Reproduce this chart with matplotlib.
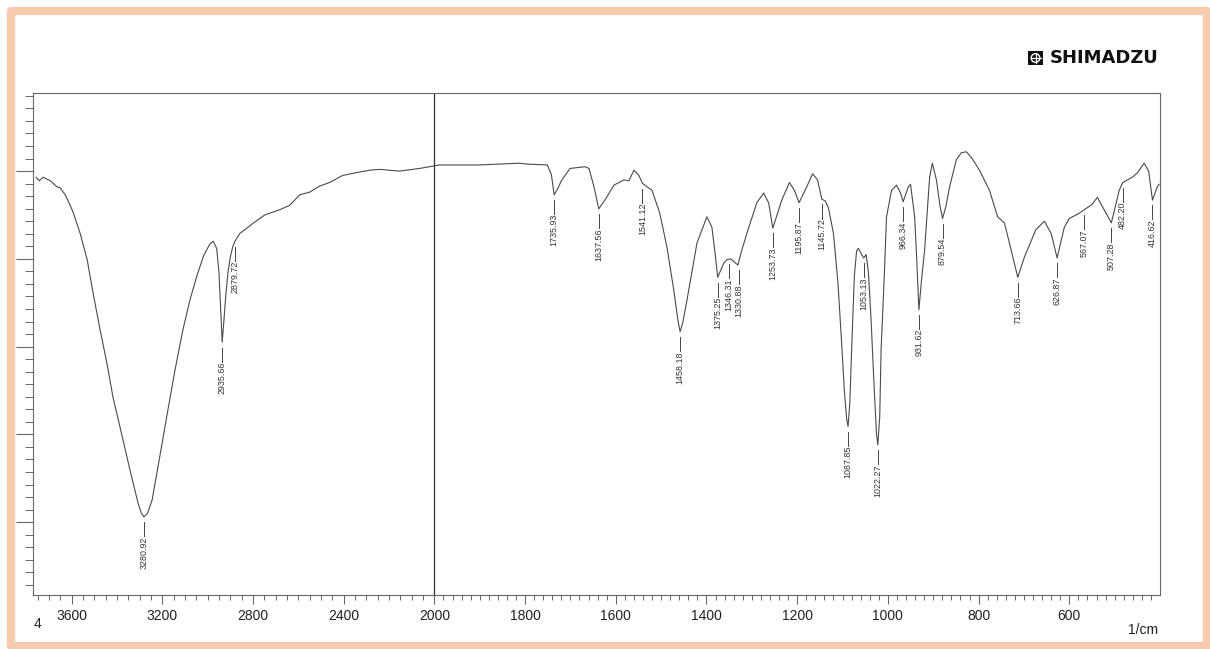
import numpy as np
import matplotlib
matplotlib.use("Agg")
import matplotlib.pyplot as plt
from matplotlib.patches import Rectangle, Circle
from matplotlib.ticker import FixedLocator, MultipleLocator, NullFormatter

# FTIR spectrum (wavenumber in 1/cm, transmittance in arbitrary %T units)
wavenumber = [
    3756, 3743, 3725, 3694, 3664, 3650, 3642, 3628, 3606, 3593, 3562, 3531, 3505, 3474,
    3444, 3417, 3386, 3342, 3307, 3292, 3280.92, 3265, 3245, 3210, 3175, 3144, 3109,
    3078, 3047, 3017, 2990, 2975, 2960, 2950, 2943, 2935.66, 2928, 2920, 2910, 2900,
    2890, 2879.72, 2858, 2827, 2792, 2748, 2682, 2638, 2594, 2550, 2506, 2462, 2405,
    2330, 2286, 2242, 2154, 2066, 1989, 1901, 1813, 1795, 1751, 1742, 1735.93, 1728,
    1720, 1701, 1668, 1659, 1648, 1637.56, 1624, 1604, 1582, 1571, 1560, 1549, 1541.12,
    1520, 1503, 1487, 1472, 1463, 1458.18, 1452, 1443, 1421, 1399, 1388, 1381, 1375.25,
    1362, 1355, 1346.31, 1338, 1330.88, 1322, 1311, 1289, 1274, 1263, 1253.73, 1234,
    1217, 1206, 1195.87, 1179, 1166, 1155, 1145.72, 1138, 1131, 1120, 1110, 1102, 1096,
    1091, 1087.85, 1084, 1079, 1074, 1069, 1065, 1058, 1053.13, 1048, 1043, 1037, 1030,
    1025, 1022.27, 1018, 1015, 1008, 1003, 992, 981, 972, 966.34, 955, 950, 941, 936,
    931.62, 926, 919, 908, 902, 893, 885, 879.54, 872, 864, 849, 838, 827, 815, 798,
    776, 758, 743, 732, 713.66, 699, 674, 655, 640, 626.87, 611, 600, 578, 567.07, 550,
    538, 519, 507.28, 490, 482.20, 461, 450, 435, 425, 416.62, 406, 402,
]
transmittance = [
    49.3, 48.9, 49.3, 48.9, 48.2, 48.1, 47.8, 47.3, 46.1, 45.3, 42.9, 39.9, 36.1, 31.9,
    28.1, 24.2, 20.8, 15.9, 12.2, 11.0, 10.6, 11.0, 12.5, 17.6, 22.8, 27.3, 31.9,
    35.3, 38.1, 40.4, 41.7, 42.0, 41.2, 38.5, 34.5, 30.5, 33.0, 35.8, 38.5, 40.2,
    41.3, 42.0, 42.9, 43.5, 44.2, 45.0, 45.6, 46.1, 47.3, 47.6, 48.3, 48.7, 49.5,
    49.9, 50.1, 50.2, 50.0, 50.3, 50.7, 50.7, 50.9, 50.8, 50.7, 49.6, 47.3, 48.0,
    48.9, 50.3, 50.5, 50.3, 48.2, 45.7, 46.7, 48.4, 49.0, 48.9, 50.1, 49.5, 48.6,
    47.8, 45.2, 41.3, 36.4, 33.0, 31.7, 32.8, 35.3, 41.8, 44.8, 43.6, 40.6, 37.9,
    39.5, 39.9, 40.0, 39.6, 39.3, 41.0, 42.9, 46.4, 47.5, 46.4, 43.5, 46.7,
    48.7, 47.8, 46.4, 48.2, 49.7, 49.0, 46.8, 46.6, 45.8, 42.9, 37.2, 30.4, 25.0,
    21.8, 20.9, 23.5, 31.0, 38.0, 40.9, 41.2, 40.5, 40.1, 40.5, 38.5, 33.0, 25.0,
    20.0, 18.8, 22.0, 29.6, 38.0, 44.8, 47.8, 48.4, 47.5, 46.5, 48.2, 48.5, 44.8, 39.5,
    34.2, 37.5, 41.0, 49.3, 50.9, 49.0, 46.0, 44.6, 46.0, 48.2, 51.3, 52.1, 52.2, 51.5, 50.1,
    47.8, 44.8, 44.1, 41.8, 37.9, 40.2, 43.3, 44.3, 42.9, 40.1, 43.6, 44.6, 45.2, 45.6, 46.2,
    47.0, 45.2, 44.1, 47.8, 48.7, 49.3, 49.8, 50.9, 50.0, 46.7, 48.2, 48.5,
]

peaks = [3280.92, 2935.66, 2879.72, 1735.93, 1637.56, 1541.12, 1458.18, 1375.25,
         1346.31, 1330.88, 1253.73, 1195.87, 1145.72, 1087.85, 1053.13, 1022.27,
         966.34, 931.62, 879.54, 713.66, 626.87, 567.07, 507.28, 482.20, 416.62]

major_x = [3600, 3200, 2800, 2400, 2000, 1800, 1600, 1400, 1200, 1000, 800, 600]

peach = "#F7CBAE"
ink = "#4a4a4a"


def fwd(x):
    x = np.asarray(x, dtype=float)
    return np.where(x <= 2000, x, 2000 + (x - 2000) * 0.5)


def inv(u):
    u = np.asarray(u, dtype=float)
    return np.where(u <= 2000, u, 2000 + (u - 2000) * 2.0)


plt.rcParams['font.family'] = ['Liberation Sans', 'DejaVu Sans']

W, H = 1210, 649
fig = plt.figure(figsize=(W / 100, H / 100), dpi=100)
fig.patch.set_facecolor("white")

# peach page frame
fig.patches.append(Rectangle((11 / W, 3 / H), 1196 / W, 635.5 / H, fill=False,
                             edgecolor=peach, lw=6, joinstyle="round",
                             transform=fig.transFigure, zorder=0))

ax = fig.add_axes([33 / W, 1 - 595 / H, 1127 / W, 502 / H])
ax.set_xscale("function", functions=(fwd, inv))
ax.set_xlim(3770, 400)
ax.set_ylim(1.7, 58.9)

ax.plot(wavenumber, transmittance, color=ink, lw=0.8, solid_joinstyle="round")
ax.axvline(2000, color="#333333", lw=0.9)

# peak labels: short leader below the trough, then rotated number
wn = np.array(wavenumber)[::-1]
tr = np.array(transmittance)[::-1]
nudge = {1346.31: 4, 1330.88: -3}   # crowded pair spread apart a little
for p in peaks:
    yp = np.interp(p, wn, tr)
    xl = p + nudge.get(p, 0)
    y0 = yp - 0.6
    y1 = y0 - 1.6
    ax.plot([xl, xl], [y0, y1], color="#444444", lw=0.7)
    ax.text(xl, y1, f"{p:.2f}", rotation=90, ha="center", va="top",
            fontsize=6.4, color="#333333")

for s in ax.spines.values():
    s.set_color("#666666")
    s.set_linewidth(0.8)

ax.xaxis.set_major_locator(FixedLocator(major_x))
minor_x = list(np.arange(420, 2000, 20)) + list(np.arange(2050, 3770, 50))
ax.xaxis.set_minor_locator(FixedLocator(minor_x))
ax.set_xticklabels([str(v) for v in major_x])
ax.xaxis.set_minor_formatter(NullFormatter())
ax.tick_params(axis="x", which="major", direction="out", length=6.5, width=0.8,
               pad=3.5, labelsize=10, color="#666666", labelcolor="#222222")
ax.tick_params(axis="x", which="minor", direction="out", length=3.6, width=0.7,
               color="#666666")

ax.yaxis.set_major_locator(FixedLocator([10, 20, 30, 40, 50]))
ax.yaxis.set_minor_locator(MultipleLocator(10 / 7))
ax.tick_params(axis="y", which="major", direction="out", length=12, width=0.8,
               labelleft=False, color="#666666")
ax.tick_params(axis="y", which="minor", direction="out", length=5.8, width=0.7,
               color="#666666")

fig.text(1158 / W, 1 - 630 / H, "1/cm", ha="right", va="center", fontsize=10,
         color="#222222")
fig.text(37 / W, 1 - 624 / H, "4", ha="center", va="center", fontsize=10,
         color="#222222")

# SHIMADZU logo
lax = fig.add_axes([1028 / W, 1 - 65 / H, 15 / W, 14 / H])
lax.set_xlim(0, 15)
lax.set_ylim(0, 14)
lax.set_aspect("equal")
lax.axis("off")
lax.add_patch(Rectangle((0, 0), 15, 14, color="#111111"))
lax.add_patch(Circle((7.5, 7), 5, facecolor="white", edgecolor="none"))
lax.add_patch(Circle((7.5, 7), 3.6, facecolor="#111111", edgecolor="none"))
lax.plot([7.5, 7.5], [2, 12], color="white", lw=0.9)
lax.plot([2.5, 12.5], [7, 7], color="white", lw=0.9)
fig.text(1050 / W, 1 - 58 / H, "SHIMADZU", ha="left", va="center", fontsize=13,
         fontweight="bold", family="DejaVu Sans", color="#111111")

fig.savefig("out.png", dpi=100, facecolor=fig.get_facecolor())
